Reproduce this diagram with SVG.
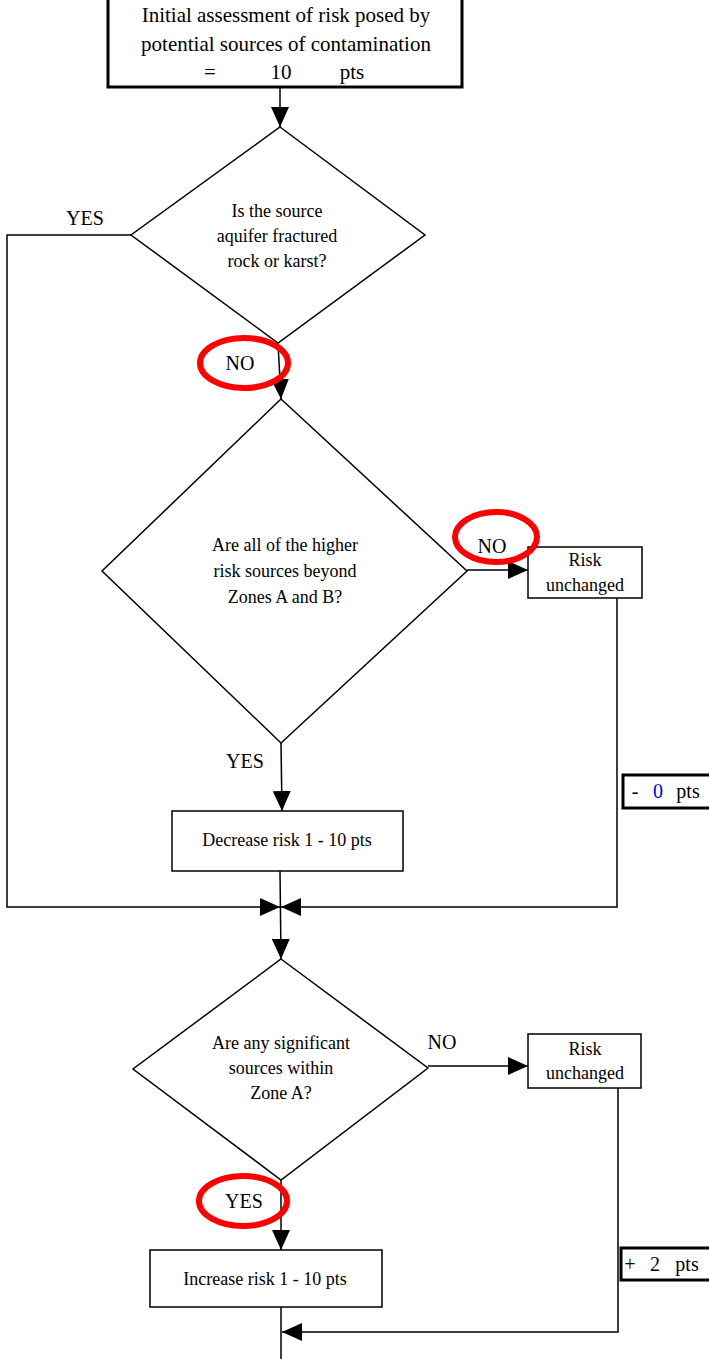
<svg xmlns="http://www.w3.org/2000/svg" width="709" height="1359" viewBox="0 0 709 1359">
<style>
text{font-family:"Liberation Serif","Times New Roman",serif;fill:#000;text-anchor:middle}
.t18{font-size:18px}
.t20{font-size:20px}
.t21{font-size:21px}
.box{fill:#fff;stroke:#000;stroke-width:1.5}
.thick{fill:#fff;stroke:#000;stroke-width:3}
.dia{fill:none;stroke:#000;stroke-width:1.5}
.con{fill:none;stroke:#000;stroke-width:1.5}
.ring{fill:none;stroke:#f00;stroke-width:6}
</style>
<defs>
<marker id="ah" viewBox="0 0 20 18" refX="20" refY="9" markerWidth="20" markerHeight="18" markerUnits="userSpaceOnUse" orient="auto">
<path d="M0,0 L20,9 L0,18 Z" fill="#000"/>
</marker>
</defs>

<g id="connectors">
<line class="con" x1="280" y1="88" x2="280" y2="127" marker-end="url(#ah)"/>
<line class="con" x1="278" y1="343" x2="281" y2="399" marker-end="url(#ah)"/>
<polyline class="con" points="131,235 7,235 7,907 280,907" marker-end="url(#ah)"/>
<line class="con" x1="467" y1="570" x2="528" y2="570" marker-end="url(#ah)"/>
<polyline class="con" points="617,598 617,907 281,907" marker-end="url(#ah)"/>
<line class="con" x1="281" y1="743" x2="282" y2="811" marker-end="url(#ah)"/>
<line class="con" x1="280" y1="871" x2="281" y2="959" marker-end="url(#ah)"/>
<line class="con" x1="428" y1="1066" x2="528" y2="1066" marker-end="url(#ah)"/>
<line class="con" x1="281" y1="1180" x2="281" y2="1250" marker-end="url(#ah)"/>
<line class="con" x1="281" y1="1307" x2="281" y2="1359"/>
<polyline class="con" points="618,1088 618,1332 282,1332" marker-end="url(#ah)"/>
</g>

<g id="start">
<rect class="thick" x="108" y="-2" width="354" height="89"/>
<text class="t21" x="286" y="22">Initial assessment of risk posed by</text>
<text class="t21" x="286" y="51">potential sources of contamination</text>
<text class="t21" x="210" y="79">=</text>
<text class="t21" x="281" y="79">10</text>
<text class="t21" x="352" y="79">pts</text>
</g>

<g id="q1">
<polygon class="dia" points="280,127 425,235 278,343 131,235"/>
<text class="t18" x="277" y="217">Is the source</text>
<text class="t18" x="277" y="242">aquifer fractured</text>
<text class="t18" x="277" y="267">rock or karst?</text>
</g>

<g id="q2">
<polygon class="dia" points="281,399 467,571 281,743 102,571"/>
<text class="t18" x="285" y="551">Are all of the higher</text>
<text class="t18" x="285" y="577">risk sources beyond</text>
<text class="t18" x="285" y="603">Zones A and B?</text>
</g>

<g id="risk1">
<rect class="box" x="528" y="547" width="114" height="51"/>
<text class="t18" x="585" y="566">Risk</text>
<text class="t18" x="585" y="591">unchanged</text>
</g>

<g id="pts0">
<rect class="thick" x="623" y="775" width="92" height="33"/>
<text class="t20" x="635" y="798">-</text>
<text class="t20" x="658" y="798" style="fill:#00f">0</text>
<text class="t20" x="688" y="798">pts</text>
</g>

<g id="decrease">
<rect class="box" x="172" y="811" width="231" height="60"/>
<text class="t18" x="287" y="846">Decrease risk 1 - 10 pts</text>
</g>

<g id="q3">
<polygon class="dia" points="281,959 428,1068 281,1180 133,1069"/>
<text class="t18" x="281" y="1049">Are any significant</text>
<text class="t18" x="281" y="1074">sources within</text>
<text class="t18" x="281" y="1099">Zone A?</text>
</g>

<g id="risk2">
<rect class="box" x="528" y="1034" width="113" height="54"/>
<text class="t18" x="585" y="1055">Risk</text>
<text class="t18" x="585" y="1079">unchanged</text>
</g>

<g id="increase">
<rect class="box" x="150" y="1250" width="232" height="57"/>
<text class="t18" x="265" y="1285">Increase risk 1 - 10 pts</text>
</g>

<g id="pts2">
<rect class="thick" x="621" y="1248" width="94" height="32"/>
<text class="t20" x="630" y="1271">+</text>
<text class="t20" x="655" y="1271">2</text>
<text class="t20" x="687" y="1271">pts</text>
</g>

<g id="labels">
<text class="t20" x="85" y="225">YES</text>
<text class="t20" x="240" y="370">NO</text>
<text class="t20" x="492" y="553">NO</text>
<text class="t20" x="245" y="768">YES</text>
<text class="t20" x="442" y="1049">NO</text>
<text class="t20" x="244" y="1208">YES</text>
</g>

<g id="highlights">
<ellipse class="ring" cx="244" cy="363" rx="44" ry="25"/>
<ellipse class="ring" cx="496" cy="537" rx="41" ry="25"/>
<ellipse class="ring" cx="243" cy="1201" rx="44" ry="25"/>
</g>
</svg>
